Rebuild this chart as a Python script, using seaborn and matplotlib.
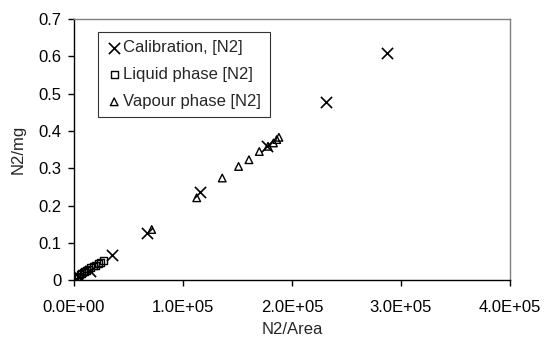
import numpy as np
import pandas as pd
import seaborn as sns
import matplotlib.pyplot as plt
from matplotlib.ticker import FuncFormatter, MultipleLocator

# Calibration standards
cal_area = [1.5e3, 5.0e3, 1.47e4, 3.46e4, 6.73e4, 1.156e5, 1.77e5, 2.31e5, 2.87e5]
cal_mg = [0.003, 0.010, 0.025, 0.069, 0.127, 0.236, 0.361, 0.479, 0.608]

# Liquid-phase samples
liq_area = [1.0e3, 2.5e3, 4.0e3, 5.5e3, 7.0e3, 8.5e3, 1.0e4, 1.15e4, 1.31e4,
            1.55e4, 1.77e4, 2.0e4, 2.23e4, 2.45e4, 2.7e4]
liq_mg = [0.004, 0.008, 0.011, 0.015, 0.018, 0.022, 0.024, 0.027, 0.030,
          0.034, 0.038, 0.040, 0.044, 0.048, 0.052]

# Vapour-phase samples
vap_area = [7.13e4, 1.126e5, 1.36e5, 1.51e5, 1.605e5, 1.70e5, 1.78e5,
            1.83e5, 1.86e5, 1.88e5]
vap_mg = [0.136, 0.221, 0.274, 0.305, 0.323, 0.345, 0.359, 0.368, 0.377, 0.383]

sns.set_style("white")
plt.rcParams["font.family"] = ["Liberation Sans", "DejaVu Sans"]

fig = plt.figure(figsize=(5.44, 3.46), dpi=100)
ax = fig.add_axes([0.136, 0.19, 0.8015, 0.755])

sns.scatterplot(x=cal_area, y=cal_mg, ax=ax, marker="x", s=65, color="black",
                linewidth=1.2, label="Calibration, [N2]", zorder=3)
sns.scatterplot(x=liq_area, y=liq_mg, ax=ax, marker="s", s=24,
                facecolor="none", edgecolor="black", linewidth=1.0,
                label="Liquid phase [N2]", zorder=3)
sns.scatterplot(x=vap_area, y=vap_mg, ax=ax, marker="^", s=30,
                facecolor="none", edgecolor="black", linewidth=1.0,
                label="Vapour phase [N2]", zorder=3)

ax.set_xlim(0, 4e5)
ax.set_ylim(0, 0.7)
ax.xaxis.set_major_locator(MultipleLocator(1e5))
ax.yaxis.set_major_locator(MultipleLocator(0.1))


def sci_fmt(v, pos):
    m, e = f"{v:.1E}".split("E")
    return f"{m}E{e}"


def y_fmt(v, pos):
    return "0" if abs(v) < 1e-9 else f"{v:.1f}"


ax.xaxis.set_major_formatter(FuncFormatter(sci_fmt))
ax.yaxis.set_major_formatter(FuncFormatter(y_fmt))

for side in ("top", "right"):
    ax.spines[side].set_color("#808080")
    ax.spines[side].set_linewidth(1.0)
for side in ("left", "bottom"):
    ax.spines[side].set_color("black")
    ax.spines[side].set_linewidth(1.0)

ax.tick_params(axis="both", which="major", direction="out", length=4,
               width=1, color="black", labelsize=12, labelcolor="black",
               bottom=True, left=True)
ax.tick_params(axis="x", pad=10)
ax.tick_params(axis="y", pad=5)

ax.set_xlabel("N2/Area", fontsize=12, labelpad=5)
ax.set_ylabel("N2/mg", fontsize=12, labelpad=9)

leg = ax.legend(loc="upper left", bbox_to_anchor=(0.054, 0.951), frameon=True,
                fancybox=False, edgecolor="black", fontsize=12,
                borderpad=0.5, handletextpad=0.05, handlelength=1.0,
                labelspacing=0.72, borderaxespad=0)
leg.get_frame().set_linewidth(0.8)

fig.savefig("out.png", dpi=100)
